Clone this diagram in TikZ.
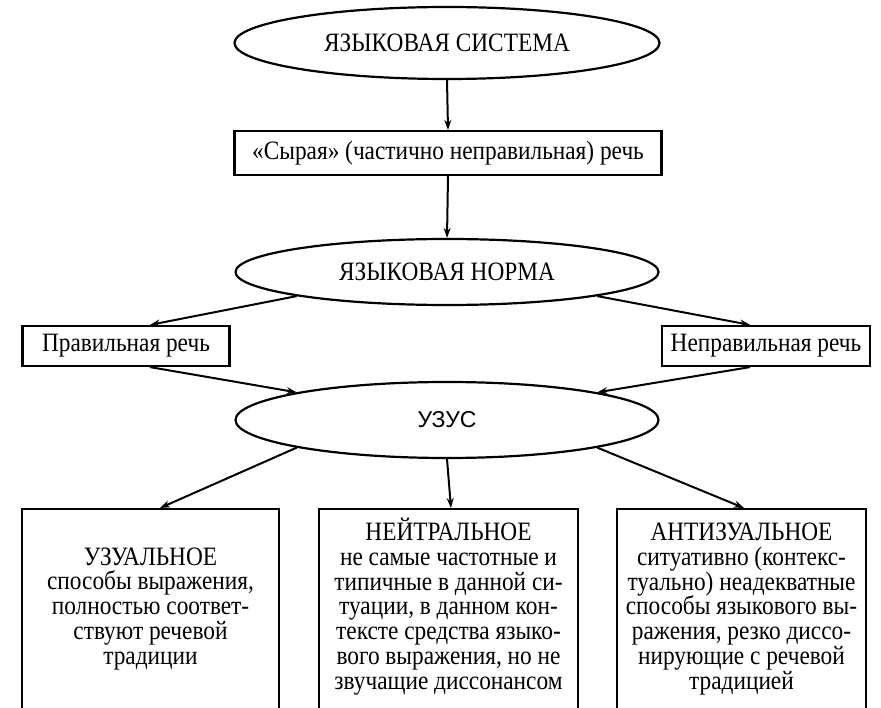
\documentclass[tikz,border=0pt]{standalone}
\usepackage{fontspec}
\setmainfont{Liberation Serif}[FakeStretch=0.88]
\newfontfamily\uzusfont{Liberation Sans}
\usetikzlibrary{shapes.geometric,arrows.meta}
\begin{document}
\begin{tikzpicture}[x=1pt,y=-1pt,
  every node/.style={font=\fontsize{26.5}{24.7}\selectfont},
  oval/.style={ellipse,draw,line width=2.2pt,inner sep=0pt},
  box/.style={draw,line width=2.2pt,inner sep=4pt},
  bigbox/.style={draw,line width=2.2pt,anchor=north},
  txt/.style={align=center,anchor=base,inner sep=0pt},
  arr/.style={line width=2pt,-{Stealth[length=10pt,width=7pt]}}]
\clip (0,0) rectangle (881,708);
\fill[white] (0,0) rectangle (881,708);
\node[oval,minimum width=425pt,minimum height=72pt] (sys) at (447,43) {ЯЗЫКОВАЯ СИСТЕМА};
\node[box,minimum width=427pt,minimum height=44pt] (raw) at (448,153) {«Сырая» (частично неправильная) речь};
\node[oval,minimum width=423pt,minimum height=66pt] (norm) at (447,272) {ЯЗЫКОВАЯ НОРМА};
\node[box,minimum width=207pt,minimum height=40pt] (prav) at (126,346) {Правильная речь};
\node[box,minimum width=208pt,minimum height=40pt] (neprav) at (766,346) {Неправильная речь};
\node[oval,minimum width=423pt,minimum height=76pt,font=\uzusfont\fontsize{23}{25}\selectfont] (uzus) at (447,420) {УЗУС};
\node[bigbox,minimum width=257pt,minimum height=220pt] (b1) at (150.5,508) {};
\node[bigbox,minimum width=259pt,minimum height=220pt] (b2) at (448.5,508) {};
\node[bigbox,minimum width=249pt,minimum height=220pt] (b3) at (741.5,508) {};
\node[txt] at (150.5,664) {УЗУАЛЬНОЕ\\способы выражения,\\полностью соответ-\\ствуют речевой\\традиции};
\node[txt] at (448.5,689) {НЕЙТРАЛЬНОЕ\\не самые частотные и\\типичные в данной си-\\туации, в данном кон-\\тексте средства языко-\\вого выражения, но не\\звучащие диссонансом};
\node[txt] at (741.5,689) {АНТИЗУАЛЬНОЕ\\ситуативно (контекс-\\туально) неадекватные\\способы языкового вы-\\ражения, резко диссо-\\нирующие с речевой\\традицией};
\draw[arr] (sys.south) -- (raw.north);
\draw[arr] (raw.south) -- (norm.north);
\draw[arr] (norm.south west) -- (prav.north -| 150,0);
\draw[arr] (norm.south east) -- (neprav.north -| 750,0);
\draw[arr] (prav.south -| 150,0) -- (uzus.north west);
\draw[arr] (neprav.south -| 750,0) -- (uzus.north east);
\draw[arr] (uzus.south west) -- (b1.north -| 160,0);
\draw[arr] (uzus.south) -- (b2.north -| 451,0);
\draw[arr] (uzus.south east) -- (b3.north -| 744,0);
\end{tikzpicture}
\end{document}
